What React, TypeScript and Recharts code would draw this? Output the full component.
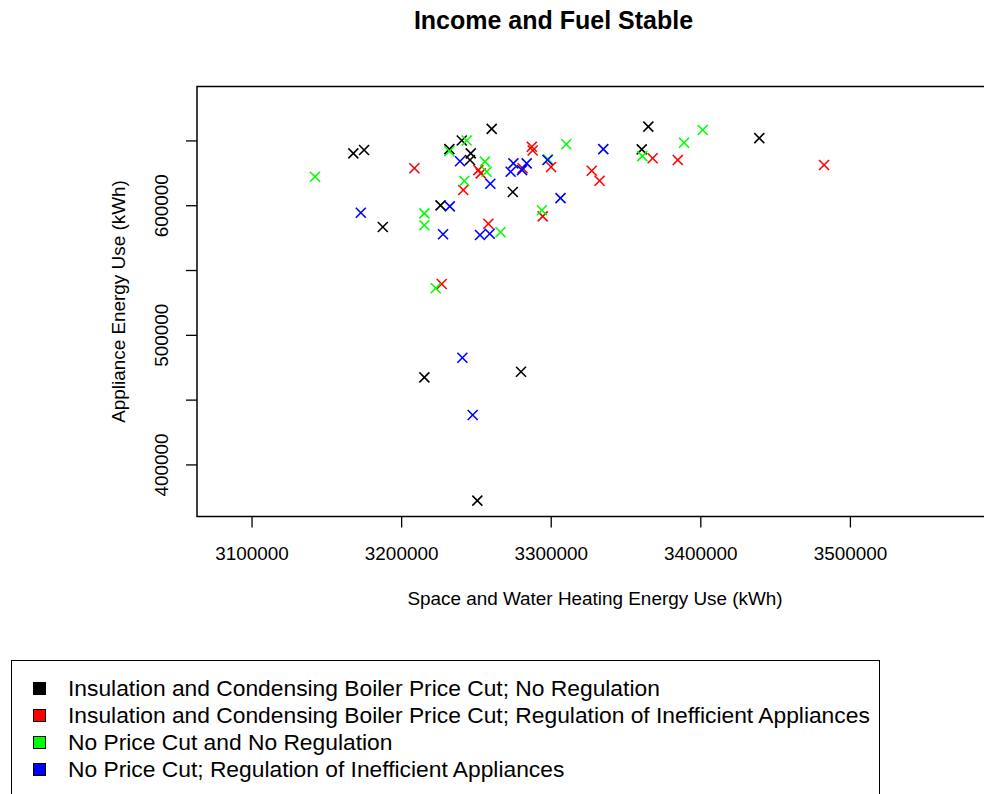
import React from 'react';
import {
  ScatterChart,
  Scatter,
  XAxis,
  YAxis,
  ReferenceArea,
  Label,
} from 'recharts';

// Scenario names, in legend order
const scenarioNames = [
  'Insulation and Condensing Boiler Price Cut; No Regulation',
  'Insulation and Condensing Boiler Price Cut; Regulation of Inefficient Appliances',
  'No Price Cut and No Regulation',
  'No Price Cut; Regulation of Inefficient Appliances',
];
const scenarioColors = ['#000000', '#FF0000', '#00FF00', '#0000FF'];

// Space and water heating energy use (kWh) per run
const cutNoRegHeat = [3167700, 3174900, 3187400, 3226000, 3231900, 3240200, 3246200, 3245700, 3260200, 3274300, 3364900, 3360500, 3439100, 3215200, 3279800, 3250600];
const cutRegHeat = [3208500, 3251300, 3252900, 3241200, 3258000, 3226800, 3287000, 3287600, 3280900, 3299900, 3327100, 3332300, 3294300, 3367800, 3384600, 3482400];
const noCutNoRegHeat = [3142100, 3215200, 3215200, 3231900, 3243500, 3255700, 3256900, 3241900, 3266100, 3310100, 3297900, 3293700, 3360900, 3388800, 3401300, 3222800];
const noCutRegHeat = [3172700, 3232200, 3227700, 3239000, 3259300, 3252400, 3258900, 3274700, 3283600, 3272900, 3280500, 3297500, 3306200, 3334800, 3240600, 3247500];

// Appliance energy use (kWh) per run
const cutNoRegAppl = [640400, 643000, 583600, 600300, 643700, 650300, 640400, 635300, 659300, 610600, 661000, 643500, 652200, 467600, 471900, 372400];
const cutRegAppl = [628900, 627500, 625000, 612100, 586100, 539600, 645500, 642600, 628900, 629900, 627000, 619300, 591800, 636600, 635300, 631400];
const noCutNoRegAppl = [622400, 594100, 584900, 642000, 650300, 634000, 626200, 619100, 579500, 647400, 635800, 596500, 638300, 648600, 658400, 536300];
const noCutRegAppl = [594600, 599500, 578000, 634300, 617000, 577400, 578400, 632700, 632700, 626200, 627500, 635300, 605900, 643700, 482700, 438500];

// Axis ticks
const xTicks = [3100000, 3200000, 3300000, 3400000, 3500000];
const yTicks = [400000, 450000, 500000, 550000, 600000, 650000];
const yTickLabels = [400000, 500000, 600000];

const X_MIN = 3063200;
const X_MAX = 3600000;
const Y_MIN = 360200;
const Y_MAX = 692000;

const FONT = '"Liberation Sans", Arial, Helvetica, sans-serif';

const zip = (xs: number[], ys: number[]) => xs.map((x, i) => ({ x, y: ys[i] }));

const seriesData = [
  zip(cutNoRegHeat, cutNoRegAppl),
  zip(cutRegHeat, cutRegAppl),
  zip(noCutNoRegHeat, noCutNoRegAppl),
  zip(noCutRegHeat, noCutRegAppl),
];

// "x" shaped point symbol
const cross = (color: string) => (props: any) => {
  const { cx, cy } = props;
  const r = 5;
  return (
    <g>
      <line x1={cx - r} y1={cy - r} x2={cx + r} y2={cy + r} stroke={color} strokeWidth={1.6} />
      <line x1={cx - r} y1={cy + r} x2={cx + r} y2={cy - r} stroke={color} strokeWidth={1.6} />
    </g>
  );
};

const XTick = (props: any) => {
  const { x, y, payload } = props;
  return (
    <text x={x} y={y + 25.5} textAnchor="middle" dominantBaseline="central" fontSize={18.9} fontFamily={FONT} fill="#000">
      {payload.value}
    </text>
  );
};

const YTick = (props: any) => {
  const { x, y, payload } = props;
  if (!yTickLabels.includes(payload.value)) return <g />;
  const tx = x - 24;
  return (
    <text
      x={tx}
      y={y}
      transform={`rotate(-90 ${tx} ${y})`}
      textAnchor="middle"
      dominantBaseline="central"
      fontSize={18.9}
      fontFamily={FONT}
      fill="#000"
    >
      {payload.value}
    </text>
  );
};

export default function App() {
  return (
    <div
      style={{
        position: 'fixed',
        left: 0,
        top: 0,
        width: 984,
        height: 794,
        overflow: 'hidden',
        background: '#fff',
        fontFamily: FONT,
      }}
    >
      <div
        style={{
          position: 'absolute',
          left: 553.5,
          top: 20,
          transform: 'translate(-50%, -50%)',
          fontSize: 25,
          fontWeight: 'bold',
          whiteSpace: 'nowrap',
          color: '#000',
        }}
      >
        Income and Fuel Stable
      </div>

      <div style={{ position: 'absolute', left: 0, top: 0 }}>
        <ScatterChart width={1010} height={794} margin={{ top: 86.5, right: 10, bottom: 217.5, left: 0 }}>
          <XAxis
            type="number"
            dataKey="x"
            domain={[X_MIN, X_MAX]}
            allowDataOverflow
            ticks={xTicks}
            interval={0}
            axisLine={false}
            tickLine={{ stroke: '#000', strokeWidth: 1.3 }}
            tickSize={11}
            tickMargin={0}
            tick={<XTick />}
            height={60}
          >
            <Label
              content={(p: any) => {
                const vb = p.viewBox;
                return (
                  <text x={595} y={vb.y + 81.5} textAnchor="middle" dominantBaseline="central" fontSize={18.9} fontFamily={FONT} fill="#000">
                    Space and Water Heating Energy Use (kWh)
                  </text>
                );
              }}
            />
          </XAxis>
          <YAxis
            type="number"
            dataKey="y"
            domain={[Y_MIN, Y_MAX]}
            allowDataOverflow
            ticks={yTicks}
            interval={0}
            axisLine={false}
            tickLine={{ stroke: '#000', strokeWidth: 1.3 }}
            tickSize={11}
            tickMargin={0}
            tick={<YTick />}
            width={197}
          >
            <Label
              content={(p: any) => {
                const vb = p.viewBox;
                const cx = vb.x + 118;
                const cy = vb.y + vb.height / 2;
                return (
                  <text
                    x={cx}
                    y={cy}
                    transform={`rotate(-90 ${cx} ${cy})`}
                    textAnchor="middle"
                    dominantBaseline="central"
                    fontSize={18.9}
                    fontFamily={FONT}
                    fill="#000"
                  >
                    Appliance Energy Use (kWh)
                  </text>
                );
              }}
            />
          </YAxis>
          <ReferenceArea
            x1={X_MIN}
            x2={X_MAX}
            y1={Y_MIN}
            y2={Y_MAX}
            fill="none"
            fillOpacity={0}
            stroke="#000"
            strokeWidth={1.5}
            ifOverflow="visible"
          />
          {seriesData.map((d, i) => (
            <Scatter
              key={scenarioNames[i]}
              name={scenarioNames[i]}
              data={d}
              shape={cross(scenarioColors[i])}
              isAnimationActive={false}
            />
          ))}
        </ScatterChart>
      </div>

      {/* legend */}
      <div
        style={{
          position: 'absolute',
          left: 11,
          top: 660,
          width: 869,
          height: 200,
          border: '1.3px solid #000',
          boxSizing: 'border-box',
        }}
      >
        {scenarioNames.map((name, i) => (
          <div
            key={name}
            style={{
              position: 'absolute',
              left: 0,
              top: 27 + i * 27 - 13.5,
              height: 27,
              display: 'flex',
              alignItems: 'center',
              whiteSpace: 'nowrap',
            }}
          >
            <span
              style={{
                display: 'inline-block',
                width: 13,
                height: 13,
                marginLeft: 21,
                background: scenarioColors[i],
                border: '1px solid #000',
                boxSizing: 'border-box',
              }}
            />
            <span style={{ marginLeft: 22, fontSize: 22.8, color: '#000', lineHeight: '27px' }}>{name}</span>
          </div>
        ))}
      </div>
    </div>
  );
}
